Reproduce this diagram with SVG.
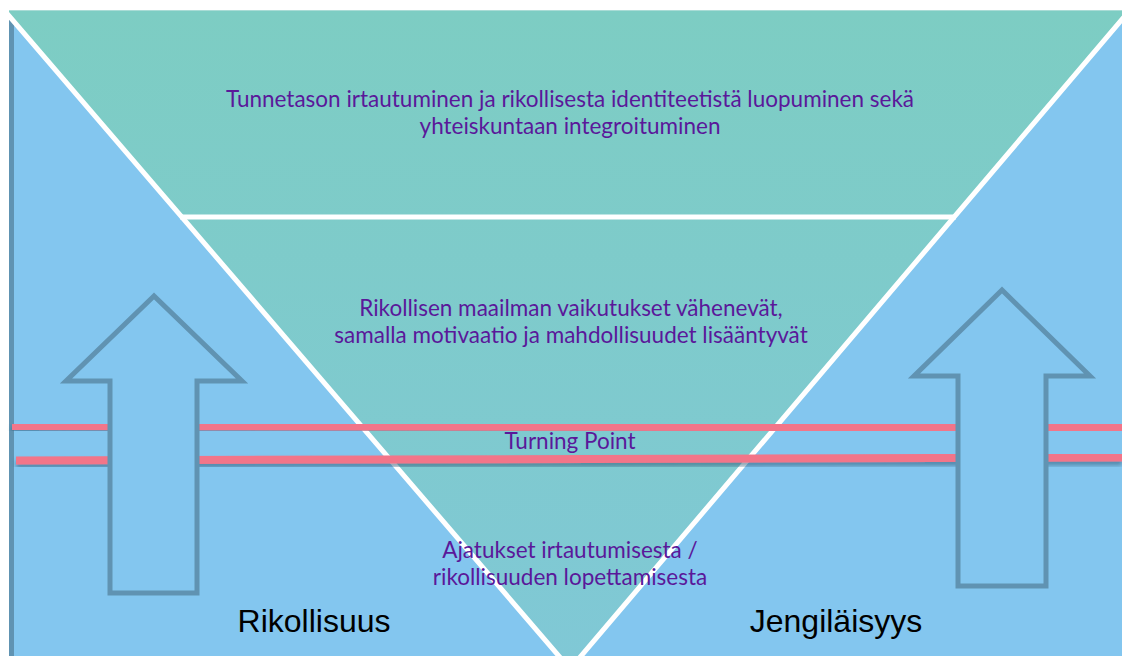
<svg xmlns="http://www.w3.org/2000/svg" width="1122" height="657" viewBox="0 0 1122 657">
  <defs>
    <clipPath id="area"><rect x="9" y="10" width="1113" height="646"/></clipPath>
    <linearGradient id="teal" x1="0" y1="0" x2="0" y2="1">
      <stop offset="0" stop-color="#7dcdc3"/>
      <stop offset="1" stop-color="#80c8d6"/>
    </linearGradient>
    <filter id="shadow" x="-5%" y="-100%" width="110%" height="400%">
      <feDropShadow dx="0" dy="4" stdDeviation="2" flood-color="#2f5878" flood-opacity="0.55"/>
    </filter>
    <style>
      .edge { fill: none; stroke: #ffffff; stroke-width: 5; }
      .pink { stroke: #f27589; stroke-width: 8; filter: url(#shadow); }
      .arrow { fill: #83c6ef; stroke: #6093b2; stroke-width: 5; stroke-linejoin: miter; }
      .lbl { font-family: Lato, "Open Sans", sans-serif; font-size: 22.5px; fill: #5a189a; text-anchor: middle; }
      .big { font-family: "Liberation Sans", Arial, sans-serif; font-size: 32px; fill: #000000; text-anchor: middle; }
    </style>
  </defs>
  <rect width="1122" height="657" fill="#ffffff"/>
  <g id="background" clip-path="url(#area)">
    <rect x="9" y="10" width="1113" height="646" fill="#83c6ef"/>
    <rect x="9" y="17" width="5" height="640" fill="#6093b2"/>
  </g>
  <g id="funnel" clip-path="url(#area)">
    <polygon points="4,10 1130,10 570,669" fill="url(#teal)"/>
    <polyline class="edge" points="4,10 570,669 1130,10"/>
    <line class="edge" x1="180" y1="217" x2="956" y2="217"/>
    <line x1="9" y1="10.5" x2="1122" y2="10.5" stroke="#a9dcd6" stroke-width="1"/>
  </g>
  <g id="connectors">
    <line class="pink" x1="12" y1="426" x2="1122" y2="427.5"/>
    <line class="pink" x1="16" y1="460.5" x2="1122" y2="457.5"/>
  </g>
  <g id="arrow-left">
    <polygon class="arrow" points="154,296 66,381 110,381 110,593 197,593 197,381 242,381"/>
  </g>
  <g id="arrow-right">
    <polygon class="arrow" points="1002,290 914,376 958,376 958,586 1046,586 1046,376 1090,376"/>
  </g>
  <g id="text-top">
    <text class="lbl" x="570" y="107">Tunnetason irtautuminen ja rikollisesta identiteetistä luopuminen sekä</text>
    <text class="lbl" x="570" y="134">yhteiskuntaan integroituminen</text>
  </g>
  <g id="text-middle">
    <text class="lbl" x="571" y="316">Rikollisen maailman vaikutukset vähenevät,</text>
    <text class="lbl" x="571" y="343">samalla motivaatio ja mahdollisuudet lisääntyvät</text>
  </g>
  <g id="text-turning">
    <text class="lbl" x="570" y="449">Turning Point</text>
  </g>
  <g id="text-bottom">
    <text class="lbl" x="570" y="558">Ajatukset irtautumisesta /</text>
    <text class="lbl" x="570" y="585">rikollisuuden lopettamisesta</text>
  </g>
  <g id="label-left">
    <text class="big" x="314" y="632">Rikollisuus</text>
  </g>
  <g id="label-right">
    <text class="big" x="836" y="632">Jengiläisyys</text>
  </g>
</svg>
